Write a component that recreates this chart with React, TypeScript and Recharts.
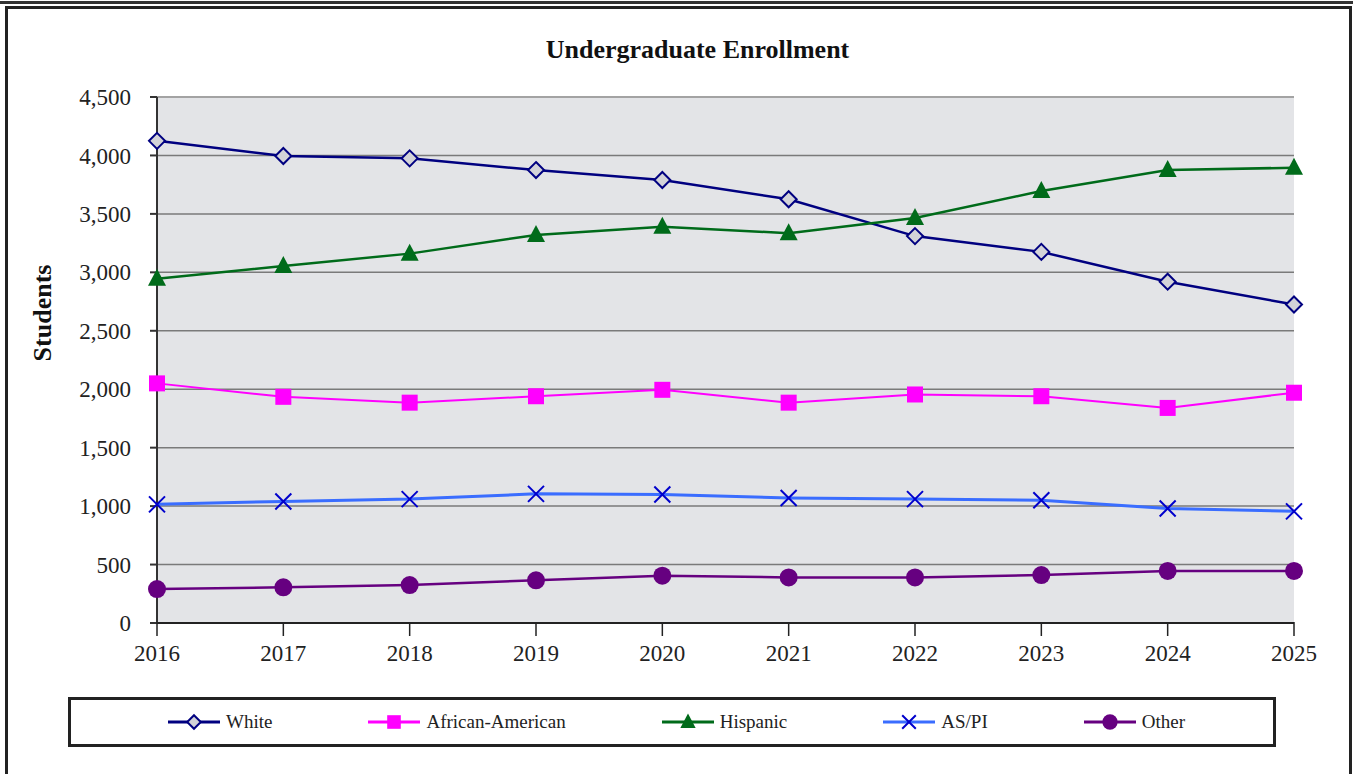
import React from "react"
import {
  LineChart,
  Line,
  XAxis,
  YAxis,
  CartesianGrid,
  Legend,
  ReferenceLine,
} from "recharts"

const years = ["2016", "2017", "2018", "2019", "2020", "2021", "2022", "2023", "2024", "2025"]
const white = [4125, 3995, 3975, 3875, 3790, 3625, 3310, 3175, 2920, 2725]
const africanAmerican = [2050, 1935, 1885, 1940, 1995, 1885, 1955, 1940, 1840, 1970]
const hispanic = [2945, 3055, 3160, 3320, 3390, 3335, 3465, 3695, 3875, 3895]
const asPi = [1015, 1040, 1060, 1105, 1100, 1070, 1060, 1050, 980, 955]
const other = [290, 305, 325, 365, 405, 390, 390, 410, 445, 445]
const yTicks = [0, 500, 1000, 1500, 2000, 2500, 3000, 3500, 4000, 4500]

const data = years.map((year, i) => ({
  year,
  white: white[i],
  africanAmerican: africanAmerican[i],
  hispanic: hispanic[i],
  asPi: asPi[i],
  other: other[i],
}))

const FONT = '"Liberation Serif", "Times New Roman", serif'

type Shape = "diamond" | "square" | "triangle" | "x" | "circle"

function Marker({ shape, cx, cy, color, fill, s = 1 }: { shape: Shape; cx: number; cy: number; color: string; fill: string; s?: number }) {
  if (shape === "diamond") {
    const r = 8 * s
    return (
      <path
        d={`M${cx},${cy - r} L${cx + r},${cy} L${cx},${cy + r} L${cx - r},${cy} Z`}
        fill={fill}
        stroke={color}
        strokeWidth={2}
      />
    )
  }
  if (shape === "square") {
    const h = 8 * s
    return <rect x={cx - h} y={cy - h} width={h * 2} height={h * 2} fill={fill} />
  }
  if (shape === "triangle") {
    return <path d={`M${cx},${cy - 10 * s} L${cx + 9 * s},${cy + 7 * s} L${cx - 9 * s},${cy + 7 * s} Z`} fill={fill} />
  }
  if (shape === "x") {
    const r = 8 * s
    return (
      <path
        d={`M${cx - r},${cy - r} L${cx + r},${cy + r} M${cx - r},${cy + r} L${cx + r},${cy - r}`}
        stroke={fill}
        strokeWidth={2}
      />
    )
  }
  return <circle cx={cx} cy={cy} r={9 * s} fill={fill} />
}

const series = [
  { key: "white", name: "White", color: "#000080", fill: "#d3d3d8", shape: "diamond" as Shape, width: 2.5 },
  { key: "africanAmerican", name: "African-American", color: "#ff00ff", fill: "#ff00ff", shape: "square" as Shape, width: 2 },
  { key: "hispanic", name: "Hispanic", color: "#006b1a", fill: "#006b1a", shape: "triangle" as Shape, width: 2.5 },
  { key: "asPi", name: "AS/PI", color: "#3a6dff", fill: "#0000cc", shape: "x" as Shape, width: 3 },
  { key: "other", name: "Other", color: "#660080", fill: "#660080", shape: "circle" as Shape, width: 2.5 },
]

function LegendBox() {
  return (
    <div
      style={{
        boxSizing: "border-box",
        width: 1208,
        height: 50,
        border: "3px solid #222",
        display: "flex",
        alignItems: "center",
        justifyContent: "center",
        gap: 95,
        fontFamily: FONT,
        fontSize: 19,
        color: "#222",
        paddingLeft: 8,
      }}
    >
      {series.map((s) => (
        <div key={s.key} style={{ display: "flex", alignItems: "center" }}>
          <svg width={54} height={20} style={{ marginRight: 5 }}>
            <line x1={1} y1={10} x2={53} y2={10} stroke={s.color} strokeWidth={3} />
            <Marker shape={s.shape} cx={27} cy={10} color={s.color} fill={s.fill} s={0.85} />
          </svg>
          <span>{s.name}</span>
        </div>
      ))}
    </div>
  )
}

function XTick(props: any) {
  const { x, y, payload } = props
  const axisY = y - 12
  return (
    <g>
      <line x1={x} y1={axisY - 7} x2={x} y2={axisY + 7} stroke="#222" strokeWidth={1.5} />
      <text x={x} y={y} dy="0.85em" textAnchor="middle" fontFamily={FONT} fontSize={23} fill="#222">
        {payload.value}
      </text>
    </g>
  )
}

function YLabel(props: any) {
  const { viewBox } = props
  const cx = viewBox.x + 42
  const cy = viewBox.y + viewBox.height / 2 - 47
  return (
    <text
      x={cx}
      y={cy}
      transform={`rotate(-90 ${cx} ${cy})`}
      textAnchor="middle"
      dominantBaseline="central"
      fontFamily={FONT}
      fontSize={26}
      fontWeight="bold"
      fill="#111"
    >
      Students
    </text>
  )
}

export default function App() {
  return (
    <div style={{ position: "absolute", left: 0, top: 0, width: 1353, height: 774, overflow: "hidden", background: "#fff" }}>
      <div style={{ position: "absolute", left: 0, top: 1, width: 1353, height: 3, background: "#333" }} />
      <div
        style={{
          position: "absolute",
          left: 5,
          top: 6,
          width: 1347,
          height: 800,
          border: "3px solid #222",
          boxSizing: "border-box",
        }}
      />
      <div
        style={{
          position: "absolute",
          left: 0,
          top: 35,
          width: 1395,
          textAlign: "center",
          fontFamily: FONT,
          fontWeight: "bold",
          fontSize: 26,
          color: "#111",
        }}
      >
        Undergraduate Enrollment
      </div>
      <div style={{ position: "absolute", left: 0, top: 0 }}>
        <LineChart width={1353} height={760} data={data} margin={{ top: 97, right: 59, left: 0, bottom: 13 }}>
          <CartesianGrid vertical={false} stroke="#7a7a7a" strokeWidth={1.5} fill="#e3e4e7" />
          <ReferenceLine y={4500} stroke="#a3a3a3" strokeWidth={2} />
          <XAxis
            dataKey="year"
            height={74}
            stroke="#222"
            strokeWidth={2}
            tickLine={false}
            tickMargin={12}
            tick={<XTick />}
            interval={0}
          />
          <YAxis
            width={157}
            domain={[0, 4500]}
            ticks={yTicks}
            stroke="#333"
            strokeWidth={2}
            tickSize={7}
            tickMargin={19}
            tickFormatter={(v: number) => v.toLocaleString("en-US")}
            tick={{ fontFamily: FONT, fontSize: 23, fill: "#222" }}
            label={<YLabel />}
          />
          <YAxis yAxisId="r" orientation="right" width={0} domain={[0, 4500]} tick={false} tickLine={false} stroke="#a3a3a3" strokeWidth={2} />
          <Legend
            verticalAlign="bottom"
            content={<LegendBox />}
            wrapperStyle={{ left: 68, bottom: 13, width: 1208, height: 50 }}
          />
          {series.map((s) => (
            <Line
              key={s.key}
              type="linear"
              dataKey={s.key}
              name={s.name}
              stroke={s.color}
              strokeWidth={s.width}
              isAnimationActive={false}
              dot={(p: any) => <Marker key={`${s.key}-${p.index}`} shape={s.shape} cx={p.cx} cy={p.cy} color={s.color} fill={s.fill} />}
              activeDot={false}
            />
          ))}
        </LineChart>
      </div>
    </div>
  )
}
